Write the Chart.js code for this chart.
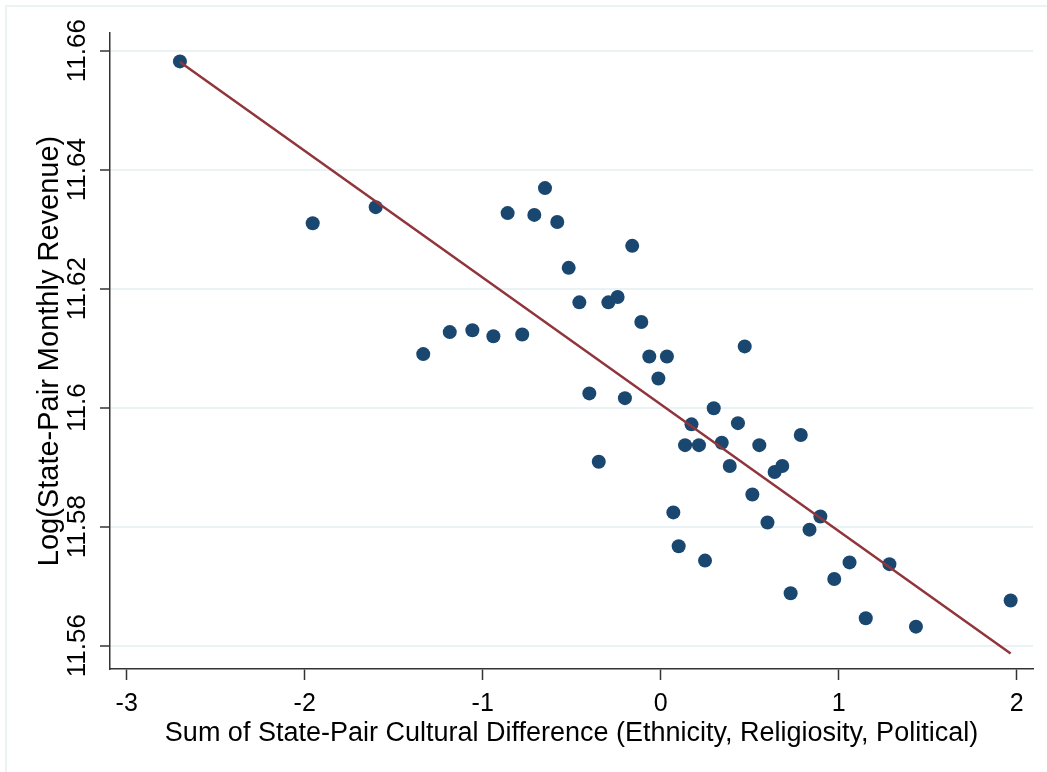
<!DOCTYPE html>
<html>
<head>
<meta charset="utf-8">
<script src="https://cdn.jsdelivr.net/npm/chart.js@4.4.1/dist/chart.umd.min.js"></script>
<style>
  html, body { margin: 0; padding: 0; background: #ffffff; }
  #wrap { position: relative; width: 1047px; height: 772px; }
  #frame { position: absolute; left: 5px; top: 5px; right: -10px; bottom: -10px;
           border-left: 2px solid #EAF2F3; border-top: 2px solid #EAF2F3; pointer-events: none; }
  canvas { position: absolute; left: 0; top: 0; }
</style>
</head>
<body>
<div id="wrap">
  <canvas id="c" width="1047" height="772"></canvas>
  <div id="frame"></div>
</div>
<script>
// ---- data ----
const binX = [-2.701, -1.955, -1.601, -1.334, -1.185, -1.058, -0.940, -0.860, -0.778, -0.710,
              -0.650, -0.581, -0.517, -0.457, -0.401, -0.348, -0.294, -0.242, -0.201, -0.160,
              -0.109, -0.064, -0.013, 0.035, 0.071, 0.101, 0.137, 0.173, 0.215, 0.249,
              0.298, 0.343, 0.388, 0.434, 0.472, 0.515, 0.554, 0.600, 0.640, 0.683,
              0.730, 0.787, 0.836, 0.897, 0.975, 1.061, 1.152, 1.285, 1.434, 1.966];
const binY = [11.6582, 11.6310, 11.6337, 11.6090, 11.6127, 11.6130, 11.6120, 11.6327, 11.6123, 11.6324,
              11.6369, 11.6312, 11.6235, 11.6177, 11.6024, 11.5909, 11.6177, 11.6186, 11.6016, 11.6272,
              11.6144, 11.6086, 11.6049, 11.6086, 11.5824, 11.5767, 11.5937, 11.5972, 11.5937, 11.5743,
              11.5999, 11.5941, 11.5902, 11.5974, 11.6103, 11.5854, 11.5937, 11.5807, 11.5892, 11.5902,
              11.5688, 11.5954, 11.5795, 11.5817, 11.5712, 11.5740, 11.5646, 11.5737, 11.5632, 11.5676];
const fitX = [-2.701, 1.966];
const fitY = [11.6581, 11.5587];

const xTicks = [-3, -2, -1, 0, 1, 2];
const xTickLabels = ['-3', '-2', '-1', '0', '1', '2'];
const yTicks = [11.56, 11.58, 11.60, 11.62, 11.64, 11.66];
const yTickLabels = ['11.56', '11.58', '11.6', '11.62', '11.64', '11.66'];
const xRange = [-3.0938, 2.0916];
const yRange = [11.55608, 11.66297];

const xTitle = 'Sum of State-Pair Cultural Difference (Ethnicity, Religiosity, Political)';
const yTitle = 'Log(State-Pair Monthly Revenue)';

// ---- styling ----
const FONT = '"Liberation Sans", Arial, Helvetica, sans-serif';
const AXIS = '#333333';
const GRID = '#EAF2F3';

const yTickLabelPlugin = {
  id: 'yTickLabels',
  afterDraw(chart) {
    const s = chart.scales.y;
    const ctx = chart.ctx;
    ctx.save();
    ctx.fillStyle = '#000000';
    ctx.font = '26px ' + FONT;
    ctx.textAlign = 'center';
    ctx.textBaseline = 'middle';
    s.ticks.forEach(t => {
      const idx = yTicks.indexOf(t.value);
      const py = s.getPixelForValue(t.value);
      ctx.save();
      ctx.translate(s.right - 32, py);
      ctx.rotate(-Math.PI / 2);
      ctx.fillText(yTickLabels[idx], 0, 0);
      ctx.restore();
    });
    ctx.restore();
  }
};

const points = binX.map((x, i) => ({ x: x, y: binY[i] }));
const fitLine = fitX.map((x, i) => ({ x: x, y: fitY[i] }));

new Chart(document.getElementById('c'), {
  type: 'scatter',
  data: {
    datasets: [
      {
        type: 'line',
        data: fitLine,
        borderColor: '#90353B',
        borderWidth: 2.5,
        pointRadius: 0,
        fill: false,
        tension: 0,
        order: 0
      },
      {
        data: points,
        backgroundColor: '#1A476F',
        borderColor: '#1A476F',
        borderWidth: 0,
        pointRadius: 7,
        order: 1
      }
    ]
  },
  options: {
    responsive: false,
    devicePixelRatio: 1,
    animation: false,
    layout: { padding: { left: 0, top: 33, right: 14, bottom: 0 } },
    plugins: { legend: { display: false }, tooltip: { enabled: false } },
    scales: {
      x: {
        type: 'linear',
        min: xRange[0], max: xRange[1],
        afterBuildTicks: s => { s.ticks = xTicks.map(v => ({ value: v })); },
        afterFit: s => { s.height = 103; },
        border: { display: true, color: AXIS, width: 1.5 },
        grid: { drawOnChartArea: false, drawTicks: true, tickLength: 11, tickColor: AXIS, tickWidth: 1.5 },
        ticks: {
          color: '#000000', font: { family: FONT, size: 25 }, padding: 9,
          maxRotation: 0, minRotation: 0, autoSkip: false,
          callback: v => xTickLabels[xTicks.indexOf(v)]
        },
        title: {
          display: true, text: xTitle, color: '#000000',
          font: { family: FONT, size: 27 }, padding: { top: 0, bottom: 22 }
        }
      },
      y: {
        type: 'linear',
        min: yRange[0], max: yRange[1],
        afterBuildTicks: s => { s.ticks = yTicks.map(v => ({ value: v })); },
        afterFit: s => { s.width = 110; },
        border: { display: true, color: AXIS, width: 1.5 },
        grid: { color: GRID, lineWidth: 2, drawTicks: true, tickLength: 10, tickColor: AXIS, tickWidth: 1.5 },
        ticks: { display: false },
        title: {
          display: true, text: yTitle, color: '#000000',
          font: { family: FONT, size: 29 }, padding: { top: 33, bottom: 0 }
        }
      }
    }
  },
  plugins: [yTickLabelPlugin]
});
</script>
</body>
</html>
